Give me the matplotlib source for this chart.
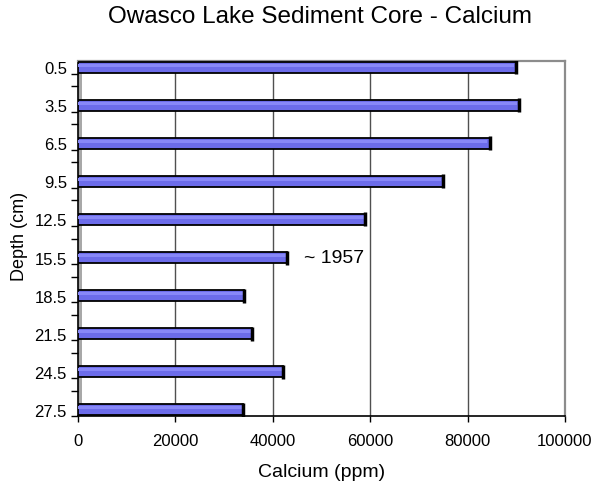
import matplotlib
matplotlib.use("Agg")
import matplotlib.pyplot as plt
from matplotlib.patches import Rectangle
import numpy as np

plt.rcParams['font.family'] = ['Liberation Sans', 'DejaVu Sans']

depths = [0.5, 3.5, 6.5, 9.5, 12.5, 15.5, 18.5, 21.5, 24.5, 27.5]
calcium = [90000, 90500, 84500, 75000, 59000, 43000, 34000, 35800, 42000, 33800]
depth_labels = ["0.5", "3.5", "6.5", "9.5", "12.5", "15.5", "18.5", "21.5", "24.5", "27.5"]
x_ticks = [0, 20000, 40000, 60000, 80000, 100000]
x_tick_labels = ["0", "20000", "40000", "60000", "80000", "100000"]
annot_text = "~ 1957"
annot_depth = 15.5
annot_x = 46500

fig = plt.figure(figsize=(5.92, 4.89), dpi=100)
ax = fig.add_axes([78/592, 1 - 417/489, 487/592, (417 - 62)/489])

ax.set_xlim(0, 100000)
ax.set_ylim(28, 0)

# back wall strip on left
ax.add_patch(Rectangle((0, 0), 4/487, 1, transform=ax.transAxes,
                       facecolor='#a8a8a8', edgecolor='none', zorder=1))

# gridlines
for xv in x_ticks[1:-1]:
    ax.axvline(xv, color='#505050', lw=1.0, zorder=1)

bh = 0.85
ax.barh(depths, calcium, height=bh, color='#6c6cea', edgecolor='black',
        linewidth=1.3, zorder=3)
# highlight on the upper part of each bar
ax.barh(np.array(depths) - bh * 0.18, np.array(calcium) * 0.995, height=bh * 0.3,
        color='#8888f8', edgecolor='none', zorder=4)
# darker cap at the end
ax.scatter(calcium, depths, marker='|', s=110, color='black', linewidths=2.5, zorder=5)

ax.text(annot_x, annot_depth, annot_text, fontsize=14, va='center', ha='left', zorder=6)

# spines
ax.spines['left'].set_color('black')
ax.spines['bottom'].set_color('black')
ax.spines['top'].set_color('#8c8c8c')
ax.spines['right'].set_color('#8c8c8c')
ax.spines['top'].set_linewidth(1.6)
ax.spines['right'].set_linewidth(1.6)
ax.spines['left'].set_linewidth(1.2)
ax.spines['bottom'].set_linewidth(1.2)

ax.set_xticks(x_ticks)
ax.set_xticklabels(x_tick_labels, fontsize=12)
ax.tick_params(axis='x', length=4, width=1, color='black', pad=8)

ax.set_yticks(depths)
ax.set_yticklabels(depth_labels, fontsize=12)
minor = sorted([d + 0.5 for d in depths] + [d + 1.5 for d in depths if d + 1.5 <= 28])
ax.set_yticks(minor, minor=True)
ax.tick_params(axis='y', which='major', length=0, pad=8)
ax.tick_params(axis='y', which='minor', length=5, width=1, color='black')

ax.set_xlabel("Calcium (ppm)", fontsize=14, labelpad=11)
ax.set_ylabel("Depth (cm)", fontsize=13)
ax.yaxis.set_label_coords(-0.102, 0.51)

fig.text(320/592, 1 - 17/489, "Owasco Lake Sediment Core - Calcium",
         fontsize=17.5, ha='center', va='center')

fig.savefig("out.png", dpi=100)
